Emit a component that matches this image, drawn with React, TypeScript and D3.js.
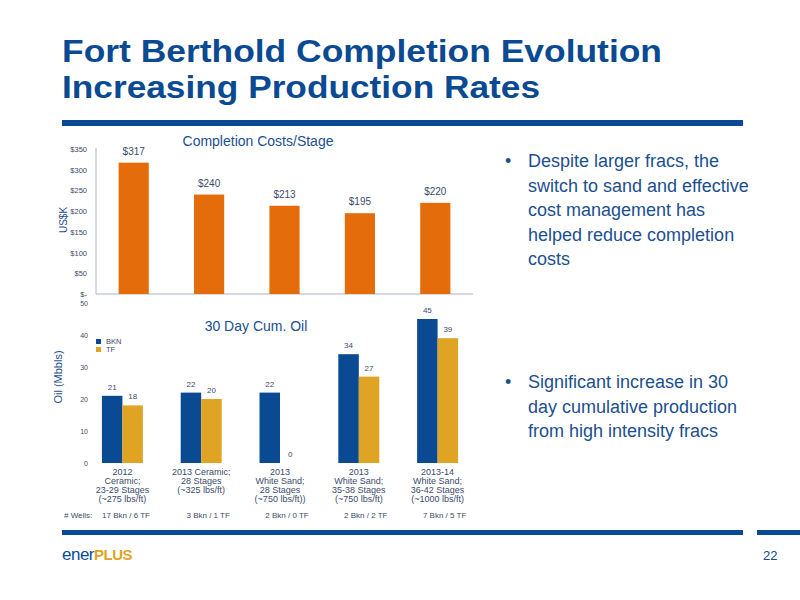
import React from "react";
import * as d3 from "d3";

const costCategories = ["c1", "c2", "c3", "c4", "c5"];
const costValues = [317, 240, 213, 195, 220];
const costTicks = [0, 50, 100, 150, 200, 250, 300, 350];

const oilCategories = [
  ["2012", "Ceramic;", "23-29 Stages", "(~275 lbs/ft)"],
  ["2013 Ceramic;", "28 Stages", "(~325 lbs/ft)"],
  ["2013", "White Sand;", "28 Stages", "(~750 lbs/ft))"],
  ["2013", "White Sand;", "35-38 Stages", "(~750 lbs/ft)"],
  ["2013-14", "White Sand;", "36-42 Stages", "(~1000 lbs/ft)"],
];
const oilSeries = ["BKN", "TF"];
const bknValues = [21, 22, 22, 34, 45];
const tfValues = [18, 20, 0, 27, 39];
const oilTicks = [0, 10, 20, 30, 40, 50];
const wells = ["17 Bkn / 6 TF", "3 Bkn / 1 TF", "2 Bkn / 0 TF", "2 Bkn / 2 TF", "7 Bkn / 5 TF"];

const bullet1 = ["Despite larger fracs, the", "switch to sand and effective", "cost management has", "helped reduce completion", "costs"];
const bullet2 = ["Significant increase in 30", "day cumulative production", "from high intensity fracs"];

const NAVY = "#0A4A93";
const ORANGE = "#E46C0A";
const GOLD = "#E0A424";
const TEXT = "#1C4F8F";
const TICK = "#3B4B6B";
const FONT = "'Liberation Sans', Arial, sans-serif";

export default function App() {
  // top chart scales
  const xCost = d3.scaleBand<string>().domain(costCategories).range([96, 473]).paddingInner(0.6).paddingOuter(0.3);
  const yCost = d3.scaleLinear().domain([0, 350]).range([294, 149]);

  // bottom chart scales
  const idx = oilCategories.map((_, i) => String(i));
  const x0 = d3.scaleBand<string>().domain(idx).range([83, 477]).paddingInner(0.48).paddingOuter(0.24);
  const x1 = d3.scaleBand<string>().domain(oilSeries).range([0, x0.bandwidth()]);
  const yOil = d3.scaleLinear().domain([0, 50]).range([463, 303]);
  const color = d3.scaleOrdinal<string, string>().domain(oilSeries).range([NAVY, GOLD]);
  const seriesVals: Record<string, number[]> = { BKN: bknValues, TF: tfValues };

  return (
    <svg width={800} height={600} style={{ position: "absolute", left: 0, top: 0, background: "#fff" }} fontFamily={FONT}>
      <rect width={800} height={600} fill="#fff" />
      {/* Header */}
      <text x={62} y={61.5} fontSize={32} fontWeight="bold" fill={NAVY} textLength={600} lengthAdjust="spacingAndGlyphs">
        Fort Berthold Completion Evolution
      </text>
      <text x={62} y={97.5} fontSize={32} fontWeight="bold" fill={NAVY} textLength={478} lengthAdjust="spacingAndGlyphs">
        Increasing Production Rates
      </text>
      <rect x={62} y={120} width={681} height={6} fill={NAVY} />

      {/* Top chart */}
      <text x={258} y={146} fontSize={14} fill={TEXT} textAnchor="middle">Completion Costs/Stage</text>
      <text transform="translate(67,220) rotate(-90)" fontSize={10} fill={TEXT} textAnchor="middle">US$K</text>
      <line x1={96} x2={96} y1={148} y2={294} stroke="#A9B4C8" strokeWidth={1} />
      <line x1={96} x2={473} y1={294} y2={294} stroke="#A9B4C8" strokeWidth={1} />
      {costTicks.map((t) => (
        <text key={t} x={87} y={yCost(t) + 3} fontSize={7.5} fill={TICK} textAnchor="end">
          {t === 0 ? "$-" : `$${t}`}
        </text>
      ))}
      {costCategories.map((c, i) => (
        <g key={c}>
          <rect x={xCost(c)} y={yCost(costValues[i])} width={xCost.bandwidth()} height={yCost(0) - yCost(costValues[i])} fill={ORANGE} />
          <text x={(xCost(c) as number) + xCost.bandwidth() / 2} y={yCost(costValues[i]) - 8} fontSize={10} fill={TICK} textAnchor="middle">
            ${costValues[i]}
          </text>
        </g>
      ))}

      {/* Bottom chart */}
      <text x={256} y={331} fontSize={14} fill={TEXT} textAnchor="middle">30 Day Cum. Oil</text>
      <text transform="translate(62,377) rotate(-90)" fontSize={11} fill={TEXT} textAnchor="middle">Oil (Mbbls)</text>
      {oilTicks.map((t) => (
        <text key={t} x={88} y={yOil(t) + 3} fontSize={7} fill={TICK} textAnchor="end">{t}</text>
      ))}
      {oilSeries.map((s, j) => (
        <g key={s}>
          <rect x={96} y={339 + j * 8} width={5} height={5} fill={color(s)} />
          <text x={106} y={344 + j * 8} fontSize={7.5} fill={TICK}>{s}</text>
        </g>
      ))}
      {idx.map((k, i) => (
        <g key={k} transform={`translate(${x0(k)},0)`}>
          {oilSeries.map((s) => {
            const v = seriesVals[s][i];
            return (
              <g key={s}>
                <rect x={x1(s)} y={yOil(v)} width={x1.bandwidth()} height={yOil(0) - yOil(v)} fill={color(s)} />
                <text x={(x1(s) as number) + x1.bandwidth() / 2} y={yOil(v) - 6} fontSize={8} fill={TICK} textAnchor="middle">{v}</text>
              </g>
            );
          })}
          {oilCategories[i].map((line, li) => (
            <text key={li} x={x0.bandwidth() / 2} y={475 + li * 9} fontSize={9} fill={TICK} textAnchor="middle">{line}</text>
          ))}
        </g>
      ))}
      <text x={64} y={518} fontSize={8} fill={TICK}># Wells:</text>
      {wells.map((w, i) => (
        <text key={w + i} x={i === 0 ? 126 : (x0(String(i)) as number) + x0.bandwidth() / 2 + 7} y={518} fontSize={8} fill={TICK} textAnchor="middle">{w}</text>
      ))}

      {/* Bullets */}
      {bullet1.map((l, i) => (
        <text key={l} x={528} y={167 + i * 24.5} fontSize={18} fill={TEXT}>{l}</text>
      ))}
      <text x={505} y={167} fontSize={18} fill={TEXT}>•</text>
      {bullet2.map((l, i) => (
        <text key={l} x={528} y={388 + i * 24.5} fontSize={18} fill={TEXT}>{l}</text>
      ))}
      <text x={505} y={388} fontSize={18} fill={TEXT}>•</text>

      {/* Footer */}
      <rect x={62} y={530} width={681} height={5} fill={NAVY} />
      <rect x={757} y={530} width={43} height={5} fill={NAVY} />
      <text x={62} y={560} fontSize={17} fill={NAVY} letterSpacing={-0.5}>ener<tspan fill={GOLD} fontWeight="bold" fontSize={15}>PLUS</tspan></text>
      <text x={763} y={560} fontSize={13} fill={NAVY}>22</text>
    </svg>
  );
}
